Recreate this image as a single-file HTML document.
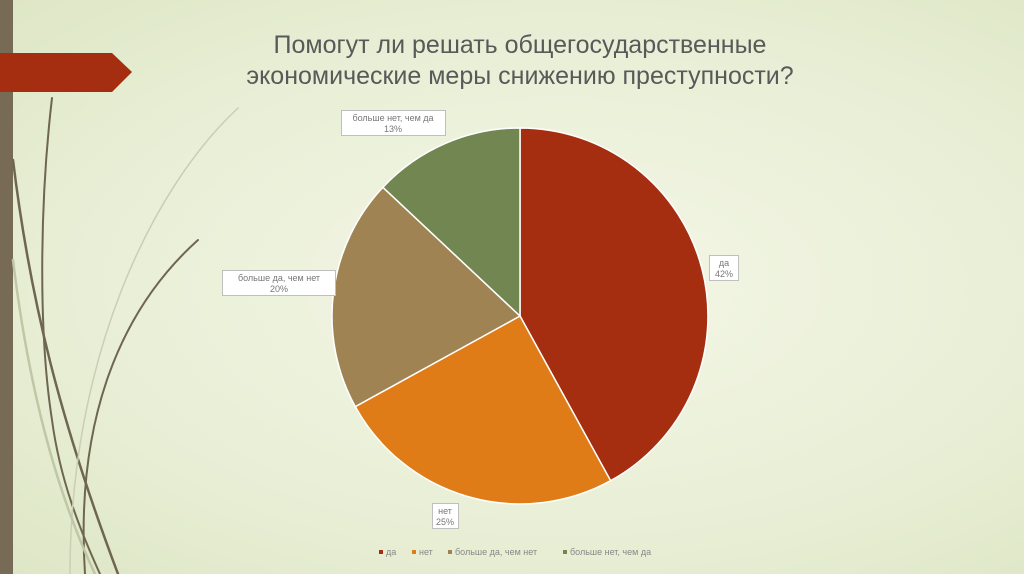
<!DOCTYPE html>
<html><head><meta charset="utf-8"><style>
html,body{margin:0;padding:0;}
body{width:1024px;height:574px;overflow:hidden;background:radial-gradient(ellipse at 55% 50%,#f3f6e6 0%,#e9efd6 60%,#dde6c5 100%);font-family:"Liberation Sans",sans-serif;}
</style></head><body>
<svg width="1024" height="574" xmlns="http://www.w3.org/2000/svg" style="position:absolute;left:0;top:0">
<rect x="0" y="0" width="13" height="574" fill="#776b55"/>
<g fill="none" stroke-linecap="round">
<path d="M52,98 C40,200 38,330 52,420 C60,480 80,530 100,574" stroke="#6f6650" stroke-width="2"/>
<path d="M13,160 C30,300 60,420 118,574" stroke="#6f6650" stroke-width="2.5"/>
<path d="M198,240 C120,310 75,420 85,574" stroke="#6f6650" stroke-width="2"/>
<path d="M238,108 C150,190 70,360 70,574" stroke="#c9cfb4" stroke-width="1.5"/>
<path d="M13,260 C30,400 60,500 95,574" stroke="#bfc7a6" stroke-width="2.5"/>
</g>
<polygon points="0,53 112,53 132,72 112,92 0,92" fill="#a52d10"/>
<text x="520" y="53" text-anchor="middle" font-size="25" fill="#595959">Помогут ли решать общегосударственные</text>
<text x="520" y="84" text-anchor="middle" font-size="25" fill="#595959">экономические меры снижению преступности?</text>
<g stroke="#fff" stroke-width="1.5">
<path d="M520,316 L520,128 A188,188 0 0 1 610.6,480.7 Z" fill="#a52d10"/>
<path d="M520,316 L610.6,480.7 A188,188 0 0 1 355.3,406.6 Z" fill="#df7c18"/>
<path d="M520,316 L355.3,406.6 A188,188 0 0 1 382.9,187.3 Z" fill="#a08352"/>
<path d="M520,316 L382.9,187.3 A188,188 0 0 1 520,128 Z" fill="#718650"/>
</g>
<g fill="#fff" stroke="#bfbfbf" stroke-width="1">
<rect x="341.5" y="110.5" width="104" height="25"/>
<rect x="709.5" y="255.5" width="29" height="25"/>
<rect x="222.5" y="270.5" width="113" height="25"/>
<rect x="432.5" y="503.5" width="26" height="25"/>
</g>
<g font-size="9" fill="#777" text-anchor="middle">
<text x="393" y="121">больше нет, чем да</text><text x="393" y="132">13%</text>
<text x="724" y="266">да</text><text x="724" y="277">42%</text>
<text x="279" y="281">больше да, чем нет</text><text x="279" y="292">20%</text>
<text x="445" y="514">нет</text><text x="445" y="525">25%</text>
</g>
<g font-size="9" fill="#888">
<rect x="379" y="550" width="4" height="4" fill="#a52d10"/><text x="386" y="555">да</text>
<rect x="412" y="550" width="4" height="4" fill="#df7c18"/><text x="419" y="555">нет</text>
<rect x="448" y="550" width="4" height="4" fill="#a08352"/><text x="455" y="555">больше да, чем нет</text>
<rect x="563" y="550" width="4" height="4" fill="#718650"/><text x="570" y="555">больше нет, чем да</text>
</g>
</svg>
</body></html>
